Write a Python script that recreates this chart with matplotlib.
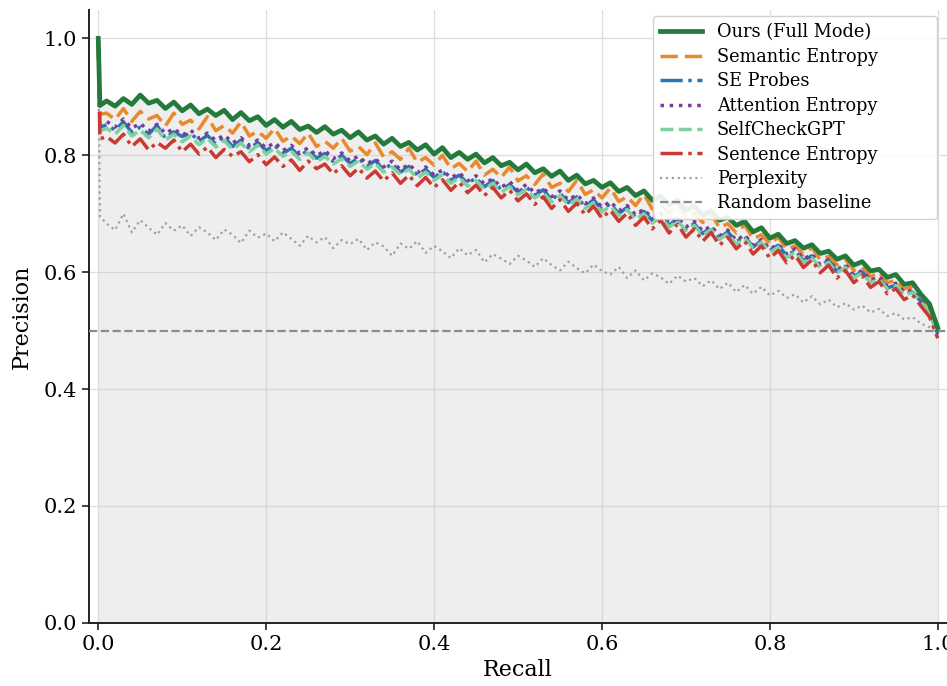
import matplotlib

matplotlib.use("Agg")
import matplotlib.pyplot as plt
import numpy as np

plt.rcParams["font.family"] = ["DejaVu Serif"]

# recall positions (first two points are the precision spike at low recall)
recall = [
    0.0, 0.002,
    0.01, 0.02, 0.03, 0.04, 0.05, 0.06, 0.07, 0.08, 0.09, 0.10,
    0.11, 0.12, 0.13, 0.14, 0.15, 0.16, 0.17, 0.18, 0.19, 0.20,
    0.21, 0.22, 0.23, 0.24, 0.25, 0.26, 0.27, 0.28, 0.29, 0.30,
    0.31, 0.32, 0.33, 0.34, 0.35, 0.36, 0.37, 0.38, 0.39, 0.40,
    0.41, 0.42, 0.43, 0.44, 0.45, 0.46, 0.47, 0.48, 0.49, 0.50,
    0.51, 0.52, 0.53, 0.54, 0.55, 0.56, 0.57, 0.58, 0.59, 0.60,
    0.61, 0.62, 0.63, 0.64, 0.65, 0.66, 0.67, 0.68, 0.69, 0.70,
    0.71, 0.72, 0.73, 0.74, 0.75, 0.76, 0.77, 0.78, 0.79, 0.80,
    0.81, 0.82, 0.83, 0.84, 0.85, 0.86, 0.87, 0.88, 0.89, 0.90,
    0.91, 0.92, 0.93, 0.94, 0.95, 0.96, 0.97, 0.98, 0.99, 1.00,
]

ours = [
    1.0, 0.885,
    0.893, 0.884, 0.897, 0.887, 0.903, 0.889, 0.894, 0.880, 0.891, 0.876,
    0.886, 0.871, 0.879, 0.868, 0.877, 0.861, 0.873, 0.859, 0.866, 0.851,
    0.861, 0.848, 0.858, 0.844, 0.850, 0.839, 0.849, 0.836, 0.843, 0.830,
    0.840, 0.826, 0.833, 0.819, 0.829, 0.815, 0.822, 0.809, 0.818, 0.802,
    0.813, 0.796, 0.805, 0.793, 0.802, 0.787, 0.796, 0.782, 0.788, 0.775,
    0.785, 0.770, 0.777, 0.764, 0.773, 0.757, 0.766, 0.751, 0.757, 0.745,
    0.753, 0.738, 0.745, 0.731, 0.739, 0.723, 0.730, 0.715, 0.723, 0.706,
    0.714, 0.697, 0.705, 0.689, 0.694, 0.680, 0.687, 0.669, 0.676, 0.658,
    0.665, 0.649, 0.654, 0.641, 0.647, 0.632, 0.636, 0.622, 0.628, 0.612,
    0.618, 0.602, 0.605, 0.591, 0.596, 0.579, 0.582, 0.562, 0.546, 0.505,
]

semantic_entropy = [
    1.0, 0.870,
    0.872, 0.861, 0.880, 0.858, 0.875, 0.862, 0.868, 0.850, 0.872, 0.853,
    0.860, 0.845, 0.866, 0.842, 0.851, 0.838, 0.857, 0.833, 0.841, 0.829,
    0.846, 0.824, 0.833, 0.820, 0.838, 0.815, 0.824, 0.812, 0.829, 0.807,
    0.815, 0.801, 0.821, 0.797, 0.806, 0.793, 0.812, 0.788, 0.796, 0.783,
    0.800, 0.777, 0.786, 0.772, 0.790, 0.766, 0.776, 0.762, 0.780, 0.756,
    0.765, 0.750, 0.768, 0.745, 0.752, 0.738, 0.757, 0.733, 0.741, 0.727,
    0.744, 0.721, 0.729, 0.714, 0.733, 0.708, 0.716, 0.701, 0.719, 0.694,
    0.701, 0.685, 0.700, 0.676, 0.683, 0.667, 0.681, 0.657, 0.664, 0.648,
    0.660, 0.639, 0.645, 0.630, 0.642, 0.621, 0.627, 0.612, 0.622, 0.603,
    0.608, 0.592, 0.600, 0.582, 0.586, 0.571, 0.575, 0.556, 0.538, 0.498,
]

se_probes = [
    1.0, 0.848,
    0.852, 0.843, 0.857, 0.839, 0.848, 0.836, 0.851, 0.829, 0.840, 0.832,
    0.838, 0.824, 0.834, 0.819, 0.831, 0.815, 0.826, 0.811, 0.822, 0.808,
    0.817, 0.803, 0.812, 0.798, 0.809, 0.795, 0.803, 0.789, 0.800, 0.786,
    0.795, 0.781, 0.791, 0.775, 0.786, 0.771, 0.781, 0.766, 0.776, 0.762,
    0.772, 0.757, 0.766, 0.752, 0.761, 0.746, 0.757, 0.741, 0.750, 0.737,
    0.746, 0.731, 0.741, 0.724, 0.735, 0.719, 0.729, 0.712, 0.724, 0.707,
    0.717, 0.700, 0.711, 0.694, 0.704, 0.688, 0.699, 0.680, 0.692, 0.674,
    0.683, 0.666, 0.677, 0.659, 0.669, 0.652, 0.661, 0.643, 0.654, 0.637,
    0.646, 0.628, 0.637, 0.620, 0.628, 0.611, 0.620, 0.601, 0.610, 0.593,
    0.600, 0.584, 0.590, 0.573, 0.578, 0.563, 0.566, 0.550, 0.532, 0.494,
]

attention_entropy = [
    1.0, 0.855,
    0.858, 0.848, 0.862, 0.846, 0.855, 0.841, 0.853, 0.837, 0.846, 0.834,
    0.843, 0.829, 0.838, 0.825, 0.835, 0.821, 0.830, 0.817, 0.826, 0.812,
    0.822, 0.808, 0.817, 0.803, 0.813, 0.799, 0.808, 0.794, 0.804, 0.790,
    0.799, 0.785, 0.794, 0.780, 0.790, 0.775, 0.785, 0.770, 0.780, 0.766,
    0.775, 0.761, 0.770, 0.756, 0.765, 0.751, 0.760, 0.745, 0.755, 0.740,
    0.750, 0.735, 0.744, 0.729, 0.739, 0.723, 0.733, 0.717, 0.727, 0.711,
    0.721, 0.705, 0.714, 0.698, 0.708, 0.691, 0.701, 0.684, 0.694, 0.677,
    0.687, 0.670, 0.679, 0.662, 0.672, 0.654, 0.664, 0.646, 0.656, 0.639,
    0.648, 0.631, 0.640, 0.622, 0.631, 0.613, 0.622, 0.604, 0.613, 0.595,
    0.603, 0.586, 0.593, 0.576, 0.581, 0.566, 0.569, 0.552, 0.535, 0.497,
]

selfcheckgpt = [
    1.0, 0.842,
    0.846, 0.836, 0.851, 0.833, 0.843, 0.830, 0.845, 0.826, 0.836, 0.823,
    0.833, 0.818, 0.829, 0.814, 0.825, 0.810, 0.821, 0.806, 0.817, 0.802,
    0.812, 0.798, 0.807, 0.793, 0.804, 0.789, 0.798, 0.785, 0.794, 0.781,
    0.790, 0.776, 0.786, 0.771, 0.780, 0.767, 0.776, 0.761, 0.771, 0.757,
    0.767, 0.752, 0.762, 0.747, 0.757, 0.742, 0.752, 0.737, 0.746, 0.732,
    0.742, 0.727, 0.736, 0.720, 0.731, 0.715, 0.725, 0.709, 0.719, 0.703,
    0.713, 0.697, 0.707, 0.690, 0.700, 0.684, 0.695, 0.677, 0.688, 0.671,
    0.680, 0.663, 0.673, 0.656, 0.666, 0.648, 0.658, 0.641, 0.651, 0.634,
    0.643, 0.625, 0.634, 0.617, 0.625, 0.608, 0.617, 0.599, 0.608, 0.591,
    0.598, 0.582, 0.588, 0.571, 0.577, 0.561, 0.565, 0.549, 0.531, 0.493,
]

sentence_entropy = [
    1.0, 0.828,
    0.832, 0.821, 0.836, 0.815, 0.828, 0.809, 0.822, 0.812, 0.826, 0.806,
    0.819, 0.802, 0.814, 0.796, 0.810, 0.798, 0.806, 0.789, 0.801, 0.784,
    0.797, 0.781, 0.792, 0.774, 0.790, 0.777, 0.785, 0.768, 0.782, 0.765,
    0.778, 0.761, 0.773, 0.756, 0.770, 0.752, 0.766, 0.748, 0.762, 0.745,
    0.758, 0.740, 0.754, 0.736, 0.749, 0.731, 0.745, 0.727, 0.740, 0.722,
    0.734, 0.716, 0.729, 0.709, 0.724, 0.704, 0.718, 0.698, 0.713, 0.692,
    0.706, 0.687, 0.701, 0.680, 0.694, 0.674, 0.689, 0.667, 0.682, 0.660,
    0.674, 0.653, 0.668, 0.646, 0.660, 0.640, 0.653, 0.631, 0.645, 0.624,
    0.637, 0.616, 0.629, 0.608, 0.621, 0.599, 0.612, 0.590, 0.603, 0.582,
    0.594, 0.574, 0.584, 0.563, 0.572, 0.553, 0.561, 0.542, 0.524, 0.487,
]

perplexity = [
    1.0, 0.695,
    0.683, 0.672, 0.700, 0.668, 0.689, 0.676, 0.664, 0.684, 0.671, 0.680,
    0.662, 0.677, 0.668, 0.655, 0.673, 0.664, 0.650, 0.671, 0.659, 0.666,
    0.653, 0.668, 0.657, 0.645, 0.662, 0.651, 0.660, 0.641, 0.655, 0.648,
    0.657, 0.638, 0.651, 0.644, 0.628, 0.649, 0.640, 0.653, 0.633, 0.645,
    0.636, 0.624, 0.641, 0.629, 0.638, 0.617, 0.631, 0.623, 0.614, 0.628,
    0.620, 0.609, 0.624, 0.612, 0.603, 0.618, 0.607, 0.598, 0.613, 0.602,
    0.596, 0.609, 0.590, 0.603, 0.586, 0.598, 0.591, 0.580, 0.594, 0.584,
    0.590, 0.576, 0.586, 0.571, 0.582, 0.566, 0.578, 0.563, 0.575, 0.560,
    0.568, 0.556, 0.562, 0.548, 0.559, 0.545, 0.553, 0.540, 0.547, 0.536,
    0.543, 0.531, 0.537, 0.525, 0.530, 0.519, 0.523, 0.512, 0.506, 0.498,
]

baseline = 0.5

fig = plt.figure(figsize=(9.47, 6.86), dpi=100)
ax = fig.add_axes([0.094, 0.092, 0.906, 0.893])

ax.fill_between(recall, 0, ours, color="#c8c8c8", alpha=0.3, linewidth=0, zorder=1)

ax.plot(recall, ours, color="#237a3b", lw=3.4, ls="-", label="Ours (Full Mode)", zorder=5)
ax.plot(recall, semantic_entropy, color="#e8892b", lw=2.5, ls=(0, (5, 2)), label="Semantic Entropy", zorder=4)
ax.plot(recall, se_probes, color="#2b74b0", lw=2.5, ls="-.", label="SE Probes", zorder=4)
ax.plot(recall, attention_entropy, color="#7a3b9a", lw=2.5, ls=":", label="Attention Entropy", zorder=4)
ax.plot(recall, selfcheckgpt, color="#7fcfa0", lw=2.5, ls="--", label="SelfCheckGPT", zorder=4)
ax.plot(recall, sentence_entropy, color="#c93a32", lw=2.5, ls="-.", label="Sentence Entropy", zorder=4)
ax.plot(recall, perplexity, color="#a0a0a0", lw=1.6, ls=":", label="Perplexity", zorder=3)
ax.axhline(baseline, color="#8c8c8c", lw=1.6, ls="--", label="Random baseline", zorder=3)

ax.set_xlim(-0.011, 1.011)
ax.set_ylim(0, 1.048)
ax.set_xticks([0.0, 0.2, 0.4, 0.6, 0.8, 1.0])
ax.set_yticks([0.0, 0.2, 0.4, 0.6, 0.8, 1.0])
ax.tick_params(labelsize=15, length=5, width=1.2, color="#222222")
ax.grid(True, color="#dddddd", lw=0.9)
ax.set_axisbelow(True)
for side in ("top", "right"):
    ax.spines[side].set_visible(False)
for side in ("left", "bottom"):
    ax.spines[side].set_linewidth(1.4)
    ax.spines[side].set_color("#222222")

ax.set_xlabel("Recall", fontsize=16, labelpad=4)
ax.set_ylabel("Precision", fontsize=16, labelpad=8)

# wide legend box, like the reference (extra room on the right)
leg = ax.legend(loc="upper left", bbox_to_anchor=(0.657, 0.99, 0.331, 0.0), mode="expand",
                fontsize=12.8, frameon=True, handlelength=2.4, borderaxespad=0.0,
                labelspacing=0.36, fancybox=True)
leg.get_frame().set_edgecolor("#cccccc")
leg.get_frame().set_alpha(0.9)

fig.savefig("out.png", dpi=100)
